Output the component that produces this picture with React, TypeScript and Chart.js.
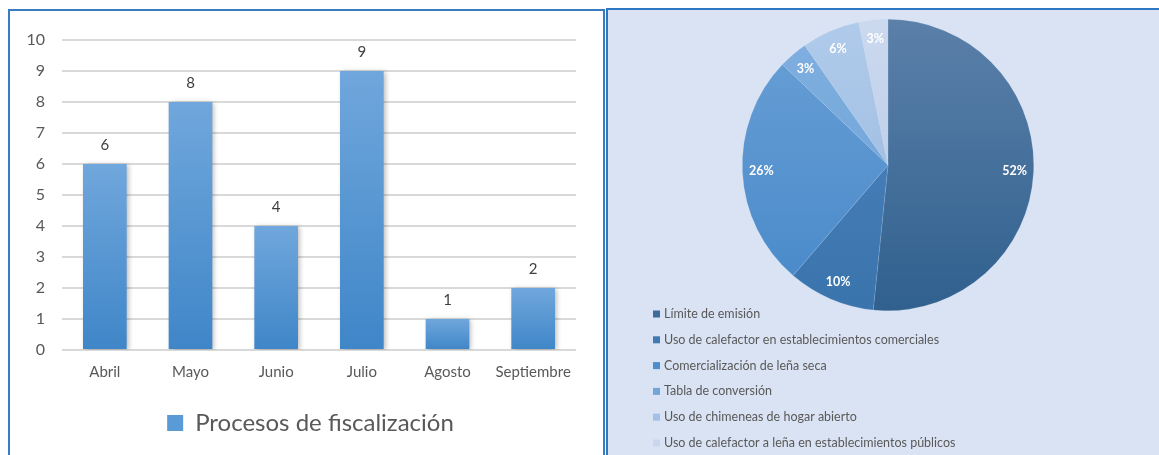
import React, { useEffect, useRef } from "react";
import { Chart, registerables } from "chart.js";

Chart.register(...registerables);

// ---- Data ----
const months = ["Abril", "Mayo", "Junio", "Julio", "Agosto", "Septiembre"];
const procesos = [6, 8, 4, 9, 1, 2];
const barSeriesLabel = "Procesos de fiscalización";
const yMin = 0;
const yMax = 10;
const yStep = 1;

const pieLabels = [
  "Límite de emisión",
  "Uso de calefactor en establecimientos comerciales",
  "Comercialización de leña seca",
  "Tabla de conversión",
  "Uso de chimeneas de hogar abierto",
  "Uso de calefactor a leña en establecimientos públicos",
];
const pieValues = [16, 3, 8, 1, 2, 1];

// ---- Styles ----
const FONT = "Lato, 'Open Sans', 'Noto Sans', sans-serif";
const TEXT = "#595959";
const barTop = "#70a7dc";
const barBottom = "#3f86c8";
const barLegend = "#5a9ad6";
const sliceTop = ["#5b80a9", "#4f86bd", "#6aa0d6", "#80b0e0", "#b0cbea", "#cbd9ef"];
const sliceBottom = ["#30608e", "#3a74ad", "#4788c9", "#6a9fd6", "#97b5de", "#b6c8e4"];
const sliceLegend = ["#3d6b9a", "#3f7ab4", "#4b8dcd", "#72a6da", "#a4c0e6", "#c8d7ee"];

function BarPanel() {
  const ref = useRef<HTMLCanvasElement | null>(null);
  useEffect(() => {
    if (!ref.current) return;
    const shadowPlugin = {
      id: "barShadow",
      beforeDatasetsDraw(chart: any) {
        const ctx = chart.ctx;
        ctx.save();
        ctx.shadowColor = "rgba(0,0,0,0.28)";
        ctx.shadowBlur = 5;
        ctx.shadowOffsetX = 2;
        ctx.shadowOffsetY = 1;
      },
      afterDatasetsDraw(chart: any) {
        chart.ctx.restore();
      },
    };
    const valuePlugin = {
      id: "barValues",
      afterDatasetsDraw(chart: any) {
        const ctx = chart.ctx;
        const meta = chart.getDatasetMeta(0);
        const data = chart.data.datasets[0].data;
        ctx.save();
        ctx.fillStyle = "#404040";
        ctx.font = `15px ${FONT}`;
        ctx.textAlign = "center";
        ctx.textBaseline = "middle";
        meta.data.forEach((el: any, i: number) => {
          ctx.fillText(String(data[i]), el.x, el.y - 19);
        });
        ctx.restore();
      },
    };
    const legendShift = {
      id: "legendShift",
      afterLayout(chart: any) {
        if (chart.legend) {
          chart.legend.left += 10;
          chart.legend.right += 10;
        }
      },
    };
    const chart = new Chart(ref.current, {
      type: "bar",
      data: {
        labels: months,
        datasets: [
          {
            label: barSeriesLabel,
            data: procesos,
            backgroundColor: (c: any) => {
              const chart = c.chart;
              if (!chart.chartArea || c.dataIndex === undefined) return barLegend;
              const ys = chart.scales.y;
              const top = ys.getPixelForValue(procesos[c.dataIndex]);
              const bottom = ys.getPixelForValue(0);
              if (!isFinite(top) || !isFinite(bottom) || top === bottom) return barLegend;
              const g = chart.ctx.createLinearGradient(0, top, 0, bottom);
              g.addColorStop(0, barTop);
              g.addColorStop(1, barBottom);
              return g;
            },
            borderWidth: 0,
            barPercentage: 0.51,
            categoryPercentage: 1,
          },
        ],
      },
      options: {
        animation: false,
        responsive: false,
        maintainAspectRatio: false,
        layout: { padding: { top: 29, right: 27, bottom: 10, left: 15 } },
        scales: {
          x: {
            grid: { display: false, drawTicks: false },
            border: { display: false },
            ticks: { color: TEXT, font: { family: FONT, size: 15 }, padding: 13 },
            afterFit: (s: any) => {
              s.height = 51;
            },
          },
          y: {
            min: yMin,
            max: yMax,
            ticks: { stepSize: yStep, color: TEXT, font: { family: FONT, size: 16 }, padding: 17 },
            grid: { color: "#d9d9d9", lineWidth: 2, drawTicks: false },
            border: { display: false },
            afterFit: (s: any) => {
              s.width = 37;
            },
          },
        },
        plugins: {
          tooltip: { enabled: false },
          legend: {
            position: "bottom",
            labels: {
              boxWidth: 16,
              boxHeight: 16,
              padding: 10,
              color: TEXT,
              font: { family: FONT, size: 24 },
              generateLabels: () => [
                {
                  text: barSeriesLabel,
                  fillStyle: barLegend,
                  strokeStyle: barLegend,
                  lineWidth: 0,
                  hidden: false,
                  datasetIndex: 0,
                  fontColor: TEXT,
                } as any,
              ],
            },
          },
        },
      } as any,
      plugins: [shadowPlugin, valuePlugin, legendShift],
    });
    return () => chart.destroy();
  }, []);
  return <canvas ref={ref} width={593} height={444} style={{ position: "absolute", left: 0, top: 0 }} />;
}

function PiePanel() {
  const ref = useRef<HTMLCanvasElement | null>(null);
  useEffect(() => {
    if (!ref.current) return;
    const total = pieValues.reduce((a, b) => a + b, 0);
    const labelPlugin = {
      id: "pieLabels",
      afterDatasetsDraw(chart: any) {
        const ctx = chart.ctx;
        const meta = chart.getDatasetMeta(0);
        ctx.save();
        ctx.fillStyle = "#ffffff";
        ctx.font = `bold 12.5px ${FONT}`;
        ctx.textAlign = "center";
        ctx.textBaseline = "middle";
        meta.data.forEach((arc: any, i: number) => {
          const p = arc.getProps(["x", "y", "startAngle", "endAngle", "outerRadius"], true);
          const mid = (p.startAngle + p.endAngle) / 2;
          const r = p.outerRadius * 0.87;
          const pct = Math.round((pieValues[i] / total) * 100);
          ctx.fillText(pct + "%", p.x + Math.cos(mid) * r, p.y + Math.sin(mid) * r);
        });
        ctx.restore();
      },
    };
    const legendPlugin = {
      id: "pieLegend",
      afterDraw(chart: any) {
        const ctx = chart.ctx;
        ctx.save();
        ctx.font = `12.5px ${FONT}`;
        ctx.textBaseline = "middle";
        ctx.textAlign = "left";
        pieLabels.forEach((lab, i) => {
          const y = 304 + i * 25.8;
          ctx.fillStyle = sliceLegend[i];
          ctx.fillRect(45, y - 3.5, 7, 7);
          ctx.fillStyle = TEXT;
          ctx.fillText(lab, 56, y);
        });
        ctx.restore();
      },
    };
    const chart = new Chart(ref.current, {
      type: "pie",
      data: {
        labels: pieLabels,
        datasets: [
          {
            data: pieValues,
            backgroundColor: (c: any) => {
              const chart = c.chart;
              const i = c.dataIndex ?? 0;
              const area = chart.chartArea;
              if (!area) return sliceLegend[i];
              const g = chart.ctx.createLinearGradient(0, area.top, 0, area.bottom);
              g.addColorStop(0, sliceTop[i]);
              g.addColorStop(1, sliceBottom[i]);
              return g;
            },
            borderWidth: 0.6,
            borderColor: "rgba(210,222,240,0.25)",
          },
        ],
      },
      options: {
        animation: false,
        responsive: false,
        maintainAspectRatio: false,
        layout: { padding: { left: 134, top: 9, right: 125, bottom: 144 } },
        plugins: { legend: { display: false }, tooltip: { enabled: false } },
      } as any,
      plugins: [labelPlugin, legendPlugin],
    });
    return () => chart.destroy();
  }, []);
  return <canvas ref={ref} width={551} height={445} style={{ position: "absolute", left: 0, top: 0 }} />;
}

export default function App() {
  return (
    <div
      style={{
        position: "absolute",
        left: 0,
        top: 0,
        width: 1159,
        height: 455,
        overflow: "hidden",
        background: "#ffffff",
      }}
    >
      <div
        style={{
          position: "absolute",
          left: 8,
          top: 9,
          width: 597,
          height: 470,
          boxSizing: "border-box",
          border: "2px solid #3a7cc2",
          background: "#ffffff",
        }}
      >
        <BarPanel />
      </div>
      <div
        style={{
          position: "absolute",
          left: 606,
          top: 8,
          width: 600,
          height: 470,
          boxSizing: "border-box",
          border: "2px solid #2f77c0",
          background: "#dae3f3",
        }}
      >
        <PiePanel />
      </div>
    </div>
  );
}
